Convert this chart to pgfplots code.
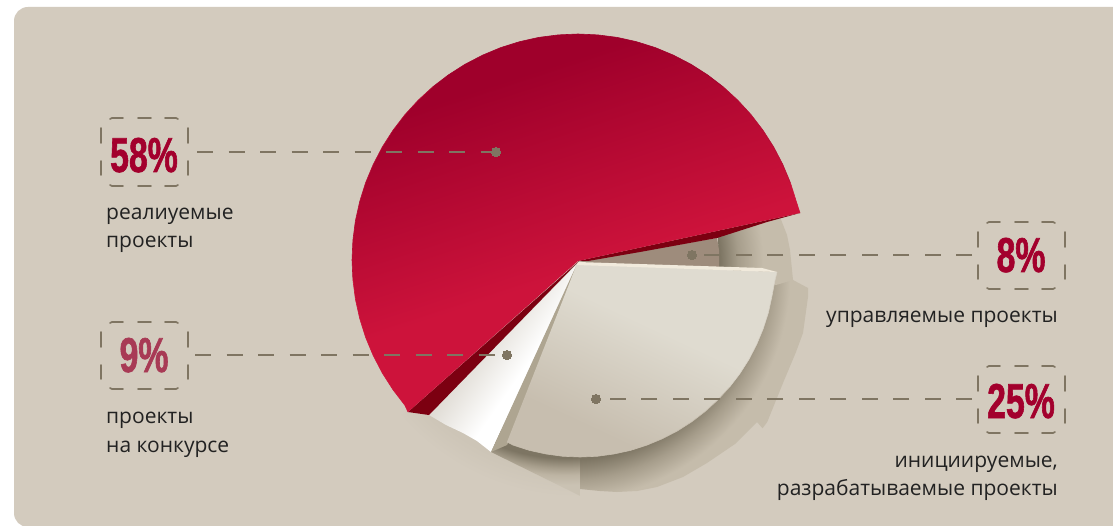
\documentclass[border=0pt]{standalone}
\usepackage{fontspec}
\usepackage{pgfplots}
\pgfplotsset{compat=1.18}
\setmainfont{Open Sans}
\newfontfamily\pctfont{Liberation Sans}[FakeStretch=0.69,FakeBold=1.2]

\definecolor{panel}{HTML}{D3CBBE}
\definecolor{leader}{HTML}{7F7562}
\definecolor{pctred}{HTML}{A3002D}
\definecolor{pctsoft}{HTML}{A83A55}
\definecolor{bodytext}{HTML}{222222}
\definecolor{redlight}{HTML}{CD133B}
\definecolor{redmid}{HTML}{B50C35}
\definecolor{reddark}{HTML}{9F002B}
\definecolor{redside}{HTML}{7C0011}
\definecolor{ringdark}{HTML}{7D7563}
\definecolor{ringmid}{HTML}{A69D8B}
\definecolor{ringlight}{HTML}{C5BCAB}
\definecolor{ringsoft}{HTML}{BDB4A3}
\definecolor{ringfade}{HTML}{CAC2B3}
\definecolor{faint}{HTML}{CDC5B7}
\definecolor{sliceA}{HTML}{C7BEAF}
\definecolor{sliceC}{HTML}{DFDBD0}
\definecolor{sidebeige}{HTML}{AEA591}
\definecolor{highlight}{HTML}{F1EADC}
\definecolor{brown}{HTML}{9E8C7C}
\definecolor{whitegrey}{HTML}{D8D3CA}

% Face gradients and soft shadows; a path's bounding box spans the 25bp--75bp band.
\pgfdeclareverticalshading{redface}{100bp}{color(0bp)=(redlight); color(44bp)=(redlight); color(70bp)=(reddark); color(100bp)=(reddark)}
\pgfdeclareverticalshading{beigeface}{100bp}{color(0bp)=(sliceA); color(31bp)=(sliceA); color(58bp)=(sliceC); color(100bp)=(sliceC)}
\pgfdeclarehorizontalshading{whiteface}{100bp}{color(0bp)=(whitegrey); color(38bp)=(whitegrey); color(57bp)=(white); color(100bp)=(white)}
\pgfdeclareradialshading{ringglow}{\pgfpointorigin}{color(0bp)=(ringdark); color(18.5bp)=(ringdark); color(20.5bp)=(ringmid); color(22.5bp)=(ringlight); color(50bp)=(ringlight)}
\pgfdeclareradialshading{tailglow}{\pgfpointorigin}{color(0bp)=(ringdark); color(18.3bp)=(ringdark); color(19.3bp)=(ringmid); color(20bp)=(ringsoft); color(21bp)=(ringfade); color(50bp)=(ringfade)}
\pgfdeclareradialshading{upperglow}{\pgfpointorigin}{color(0bp)=(ringdark); color(14.2bp)=(ringdark); color(16bp)=(ringmid); color(18.5bp)=(ringlight); color(50bp)=(ringlight)}
\pgfdeclareradialshading{faintglow}{\pgfpointorigin}{color(0bp)=(faint); color(21bp)=(faint); color(23.5bp)=(panel); color(50bp)=(panel)}

% Dashed frame round a percentage: #1,#2 upper left corner, #3 height
\newcommand{\dashframe}[3]{%
  \begin{scope}[shift={(axis cs:#1,#2)}]
    \draw[framedash] (9pt,-1pt)--(11pt,0pt)--(22pt,0pt) (37pt,0pt)--(50pt,0pt) (64pt,0pt)--(75pt,0pt)--(77pt,-1pt);
    \draw[framedash] (9pt,-#3pt+1pt)--(11pt,-#3pt)--(22pt,-#3pt) (37pt,-#3pt)--(50pt,-#3pt) (64pt,-#3pt)--(75pt,-#3pt)--(77pt,-#3pt+1pt);
    \draw[framedash] (0pt,-10pt)--(0pt,-25pt) (0pt,-43pt)--(0pt,-57pt);
    \draw[framedash] (87pt,-10pt)--(87pt,-25pt) (87pt,-43pt)--(87pt,-57pt);
  \end{scope}}

\begin{document}
\begin{tikzpicture}[
  framedash/.style={leader,line width=1.7pt,line cap=round},
  leaderline/.style={leader,line width=1.8pt,dash pattern=on 16pt off 15.5pt},
  caption/.style={inner sep=0pt,text=bodytext,font=\fontsize{21}{21}\selectfont},
  pct/.style={inner sep=0pt,font=\fontsize{49}{49}\pctfont\bfseries}]
\begin{axis}[name=chart,hide axis,scale only axis,width=1113pt,height=526pt,
  xmin=0,xmax=1113,ymin=0,ymax=526,y dir=reverse,clip=true]

% background panel
\fill[white] (axis cs:0,0) rectangle (axis cs:1113,526);
\fill[panel,rounded corners=14pt] (axis cs:14,7) rectangle (axis cs:1140,527);

% soft shadow below the white slice
\begin{scope}
  \clip (axis cs:408,411)--(axis cs:429,413)--(axis cs:463,430)--(axis cs:491,450)--(axis cs:580,496)--(axis cs:530,505)--(axis cs:440,475)--(axis cs:385,425)--cycle;
  \shade[shading=faintglow] (axis cs:577,262) circle [radius=250];
\end{scope}

% stepped shadow rings around the beige slice
\begin{scope}
  \clip (axis cs:580,440)--(axis cs:580,489)--(axis cs:600,491)--(axis cs:617,492)--(axis cs:637,491)--(axis cs:657,487)--(axis cs:683,477)--(axis cs:707,463)--(axis cs:735,444)--(axis cs:757,422)--(axis cs:764,430)--(axis cs:783,383)--(axis cs:796,352)--(axis cs:803,333)--(axis cs:808,297)--(axis cs:808,288)--(axis cs:793,280)--(axis cs:760,270)--(axis cs:600,300)--cycle;
  \shade[shading=ringglow] (axis cs:565,275) circle [radius=250];
\end{scope}
\begin{scope}
  \clip (axis cs:491,452)--(axis cs:580.5,496)--(axis cs:580.5,430)--(axis cs:500,430)--cycle;
  \shade[shading=tailglow] (axis cs:565,275) circle [radius=250];
\end{scope}
\begin{scope}
  \clip (axis cs:718,237)--(axis cs:767,221)--(axis cs:780,217)--(axis cs:787,235)--(axis cs:790,250)--(axis cs:793,280)--(axis cs:776,285)--(axis cs:719,268)--cycle;
  \shade[shading=upperglow] (axis cs:578,262) circle [radius=250];
\end{scope}

% 8 % slice
\addplot[draw=none,fill=brown] coordinates {(578,262)(717,238)(719,250)(719,267)(578,265)(578,262)};

% 9 % slice
\addplot[draw=none,shading=whiteface,shading angle=-35] coordinates {(578,263)(429,415)(446,425)(463,433)(477,441)(491,452)(578,263)};

% edge of the 25 % slice
\addplot[draw=none,fill=sidebeige] coordinates {(577,264)(491,452)(507,445)(509,441)(577,264)};

% 25 % slice
\addplot[draw=none,shading=beigeface,shading angle=-25] coordinates {
  (577,264)(777,272)(775,280)(772,295.9)(768.4,312.5)(763.2,328.7)(756.7,344.4)(748.9,359.5)(739.7,373.9)
  (729.4,387.3)(717.9,399.9)(705.3,411.4)(691.9,421.7)(677.5,430.9)(662.4,438.7)(646.7,445.2)(630.5,450.4)
  (613.9,454)(597,456.3)(580,457)(563,456.3)(546.1,454)(529.5,450.4)(513.3,445.2)(507,442)(577,264)};
\addplot[sliceC!70!sliceA,line width=.6pt] coordinates {(777,272)(775,280)(772,295.9)(768.4,312.5)(763.2,328.7)(756.7,344.4)(748.9,359.5)(739.7,373.9)(729.4,387.3)};
\addplot[sliceA,line width=.6pt] coordinates {(729.4,387.3)(717.9,399.9)(705.3,411.4)(691.9,421.7)(677.5,430.9)(662.4,438.7)(646.7,445.2)(630.5,450.4)(613.9,454)(597,456.3)(580,457)(563,456.3)(546.1,454)(529.5,450.4)(513.3,445.2)(507,442)};
\addplot[draw=none,fill=highlight] coordinates {(578,262)(762,268)(777,272)(577,265)(578,262)};

% undersides of the 58 % slice
\addplot[draw=none,fill=redside] coordinates {(408,412)(429,415)(579,261)(408,412)};
\addplot[draw=none,fill=redside] coordinates {(800,213)(767,222)(717,238)(640,252)(588,261)(578,261)(800,213)};

% 58 % slice
\addplot[draw=none,shading=redface,shading angle=18] coordinates {
  (578,261)(800,213)(796.3,201.5)(790.4,182.7)(782.8,164.5)(773.7,147)(763.1,130.4)(751.1,114.7)
  (737.8,100.2)(723.3,86.9)(707.6,74.9)(691,64.3)(673.5,55.2)(655.3,47.6)(636.5,41.7)(617.2,37.4)
  (597.7,34.9)(578,34)(558.3,34.9)(538.8,37.4)(519.5,41.7)(500.7,47.6)(482.5,55.2)(465,64.3)
  (448.4,74.9)(432.7,86.9)(418.2,100.2)(404.9,114.7)(392.9,130.4)(382.3,147)(373.2,164.5)
  (365.6,182.7)(359.7,201.5)(355.4,220.8)(352.9,240.3)(352,260)(352.9,279.7)(355.4,299.2)
  (359.7,318.5)(365.6,337.3)(373.2,355.5)(382.3,373)(392.9,389.6)(404.9,405.3)(408,412)(578,261)};
% soft rim along the arc of the 58 % slice
\addplot[redlight,line width=.6pt] coordinates {(800,213)(796.3,201.5)(790.4,182.7)};
\addplot[redmid,line width=.6pt] coordinates {(790.4,182.7)(782.8,164.5)(773.7,147)(763.1,130.4)(751.1,114.7)(737.8,100.2)(723.3,86.9)};
\addplot[reddark,line width=.6pt] coordinates {(723.3,86.9)(707.6,74.9)(691,64.3)(673.5,55.2)(655.3,47.6)(636.5,41.7)(617.2,37.4)(597.7,34.9)(578,34)(558.3,34.9)(538.8,37.4)(519.5,41.7)(500.7,47.6)(482.5,55.2)(465,64.3)(448.4,74.9)(432.7,86.9)};
\addplot[redmid,line width=.6pt] coordinates {(432.7,86.9)(418.2,100.2)(404.9,114.7)(392.9,130.4)(382.3,147)(373.2,164.5)(365.6,182.7)(359.7,201.5)(355.4,220.8)(352.9,240.3)(352,260)(352.9,279.7)};
\addplot[redlight,line width=.6pt] coordinates {(352.9,279.7)(355.4,299.2)(359.7,318.5)(365.6,337.3)(373.2,355.5)(382.3,373)(392.9,389.6)(404.9,405.3)(408,412)};

% leader lines and their end points
\addplot[leaderline] coordinates {(197,152)(496,152)};
\addplot[leaderline] coordinates {(195,355)(507,355)};
\addplot[leaderline] coordinates {(972,255)(692,255)};
\addplot[leaderline] coordinates {(972,399)(596,399)};
\addplot[only marks,color=leader,mark=*,mark size=4.6pt,mark options={fill=leader,draw=leader,solid,line width=0pt}] coordinates {(496,152)(507,355)(692,255)(596,399)};

% frames
\dashframe{101}{118}{68}
\dashframe{101}{322}{67}
\dashframe{978}{222}{67}
\dashframe{978}{366}{67}

% percentages
\node[pct,text=pctred,anchor=base] at (axis cs:144,172) {58\%};
\node[pct,text=pctsoft,anchor=base] at (axis cs:144,372) {9\%};
\node[pct,text=pctred,anchor=base] at (axis cs:1021,272) {8\%};
\node[pct,text=pctred,anchor=base] at (axis cs:1021,418) {25\%};

% captions
\node[caption,anchor=base west] at (axis cs:106,220) {реалиуемые};
\node[caption,anchor=base west] at (axis cs:106,248) {проекты};
\node[caption,anchor=base west] at (axis cs:106,423) {проекты};
\node[caption,anchor=base west] at (axis cs:106,452) {на конкурсе};
\node[caption,anchor=base east] at (axis cs:1058,323) {управляемые проекты};
\node[caption,anchor=base east] at (axis cs:1058,467) {инициируемые,};
\node[caption,anchor=base east] at (axis cs:1058,495) {разрабатываемые проекты};
\end{axis}
\pgfresetboundingbox
\path (chart.south west) rectangle (chart.north east);
\end{tikzpicture}
\end{document}
